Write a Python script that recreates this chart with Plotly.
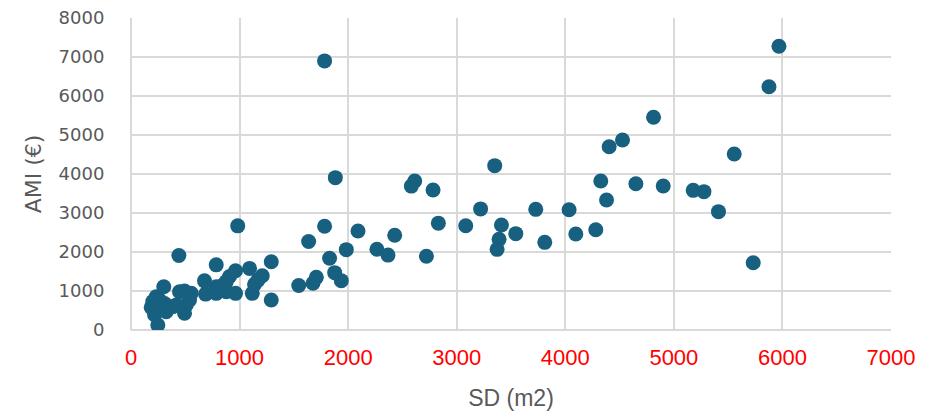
import plotly.graph_objects as go

sd_m2 = [186, 201, 217, 232, 247, 263, 278, 302, 309, 324, 385, 417, 447, 441, 493, 493, 509, 539, 555,
         677, 687, 785, 785, 785, 816, 846, 877, 877, 908, 963, 963, 983, 1092, 1117, 1138, 1169, 1209, 1292, 1292,
         1545, 1636, 1676, 1707, 1783, 1783, 1829, 1876, 1882, 1937, 1983,
         2091, 2265, 2367, 2429, 2582, 2613, 2721, 2782, 2831,
         3083, 3220, 3350, 3372, 3390, 3412, 3544, 3728, 3811,
         4035, 4097, 4281, 4327, 4380, 4404, 4527, 4650, 4813, 4902, 5178, 5277, 5411, 5556, 5731, 5876, 5968]
ami_eur = [580, 730, 390, 850, 130, 770, 560, 1110, 680, 470, 600, 640, 980, 1910, 1000, 430, 640, 770, 940,
           1260, 920, 940, 1110, 1670, 1070, 1150, 1240, 980, 1370, 940, 1520, 2670, 1580, 940, 1170, 1280, 1390, 1750, 770,
           1140, 2270, 1200, 1350, 2660, 6900, 1840, 1470, 3906, 1265, 2060,
           2540, 2070, 1920, 2430, 3690, 3820, 1890, 3590, 2740,
           2675, 3105, 4214, 2068, 2325, 2692, 2470, 3094, 2248,
           3085, 2462, 2570, 3821, 3333, 4700, 4872, 3751, 5454, 3692, 3581, 3547, 3034, 4513, 1726, 6238, 7274]

x_ticks = [0, 1000, 2000, 3000, 4000, 5000, 6000, 7000]
y_ticks = [0, 1000, 2000, 3000, 4000, 5000, 6000, 7000, 8000]

fig = go.Figure(go.Scatter(
    x=sd_m2, y=ami_eur, mode="markers",
    marker=dict(size=15, color="#176080", line=dict(width=0)),
    hoverinfo="x+y",
))

grid = "#D9D9D9"
fig.update_layout(
    width=932, height=414,
    margin=dict(l=131, r=41, t=18, b=84, autoexpand=False),
    paper_bgcolor="white", plot_bgcolor="white",
    showlegend=False,
    xaxis=dict(
        range=[0, 7000], tickvals=x_ticks, automargin=False,
        showgrid=True, gridcolor=grid, gridwidth=2,
        zeroline=True, zerolinecolor=grid, zerolinewidth=2,
        showline=False,
        tickfont=dict(family="Liberation Sans, Arial", size=22, color="#FF0000"),
        ticks="outside", ticklen=8, tickcolor="rgba(0,0,0,0)",
        title=dict(text="SD (m2)", font=dict(family="Liberation Sans, Arial", size=23, color="#595959"), standoff=20),
    ),
    yaxis=dict(
        range=[0, 8000], tickvals=y_ticks, automargin=False,
        showgrid=True, gridcolor=grid, gridwidth=2,
        zeroline=True, zerolinecolor=grid, zerolinewidth=2,
        showline=False,
        tickfont=dict(family="DejaVu Sans", size=18, color="#595959"),
        ticks="outside", ticklen=22, tickcolor="rgba(0,0,0,0)",
        title=dict(text="AMI (€)", font=dict(family="DejaVu Sans", size=22, color="#595959"), standoff=10),
    ),
)

fig.write_html("out.html")
